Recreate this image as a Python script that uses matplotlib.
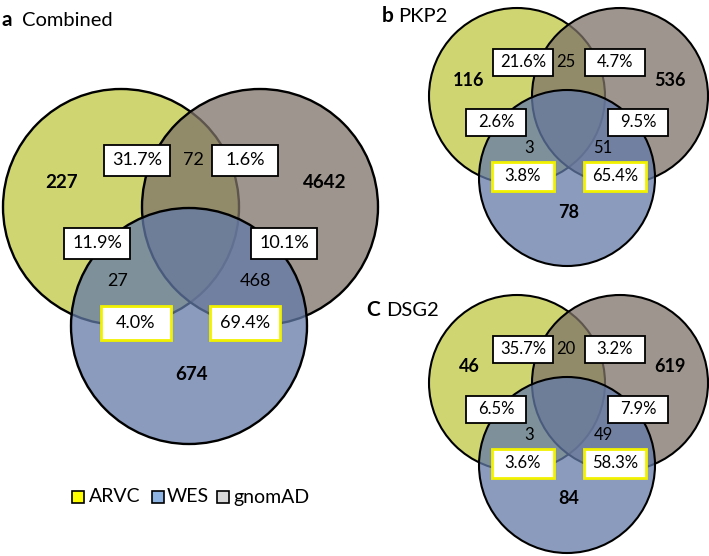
import matplotlib.pyplot as plt
from matplotlib.patches import Circle, Rectangle

plt.rcParams['font.family'] = ['Lato', 'DejaVu Sans']

# data
panel_tags = ['a', 'b', 'C']
panel_names = ['Combined', 'PKP2', 'DSG2']
arvc_only = [227, 116, 46]
gnomad_only = [4642, 536, 619]
wes_only = [674, 78, 84]
arvc_gnomad = [72, 25, 20]
arvc_wes = [27, 3, 3]
gnomad_wes = [468, 51, 49]
pct_arvc_gnomad = [31.7, 21.6, 35.7]
pct_gnomad_arvc = [1.6, 4.7, 3.2]
pct_arvc_wes = [11.9, 2.6, 6.5]
pct_gnomad_wes = [10.1, 9.5, 7.9]
pct_wes_arvc = [4.0, 3.8, 3.6]
pct_wes_gnomad = [69.4, 65.4, 58.3]
legend_names = ['ARVC', 'WES', 'gnomAD']
legend_colors = ['#FFFF00', '#8DB4E2', '#D9D9D9']

fill_arvc = (190/255, 200/255, 66/255, 0.75)
fill_gnomad = (126/255, 114/255, 104/255, 0.75)
fill_wes = (99/255, 122/255, 168/255, 0.75)

# layout (pixel coords), one entry per panel
centers = [
    dict(y=(121, 207), g=(260, 207), w=(189, 326), r=118),
    dict(y=(517, 96), g=(620, 96), w=(567, 178), r=88),
    dict(y=(517, 383), g=(620, 383), w=(567, 465), r=88),
]
layout_a = dict(only_a=(62, 182), only_g=(325, 182), only_w=(192, 375),
                ag=(193, 160), aw=(118, 281), gw=(255, 281),
                p_ag=(137, 160), p_ga=(245, 160), p_aw=(97, 243),
                p_gw=(284, 243), p_wa=(136, 323), p_wg=(245, 323),
                box=(66, 31), box2=(70, 34), fs=13, fsb=13.5, lw=1.7)
layout_b = dict(only_a=(469, 80), only_g=(670, 80), only_w=(569, 212),
                ag=(566, 62), aw=(529, 148), gw=(603, 148),
                p_ag=(523, 62), p_ga=(615, 62), p_aw=(496, 122),
                p_gw=(638, 122), p_wa=(523, 176), p_wg=(615, 176),
                box=(60, 27), box2=(62, 29), fs=12, fsb=13, lw=1.5)
shift_c = 287
layout_c = {k: ((v[0], v[1] + shift_c) if k.startswith(('only', 'ag', 'aw', 'gw', 'p_')) else v)
            for k, v in layout_b.items()}
layouts = [layout_a, layout_b, layout_c]
titles_xy = [(2, 20, 22), (382, 16, 398), (366, 310, 386)]

fig = plt.figure(figsize=(7.09, 5.56), dpi=100)
ax = fig.add_axes([0, 0, 1, 1])
ax.set_xlim(0, 709)
ax.set_ylim(556, 0)
ax.axis('off')


def pct_box(x, y, val, size, fs, edge, lw):
    w, h = size
    ax.add_patch(Rectangle((x - w / 2, y - h / 2), w, h, facecolor='white',
                           edgecolor=edge, linewidth=lw, zorder=5))
    ax.text(x, y, f'{val:.1f}%', ha='center', va='center', fontsize=fs, zorder=6)


for i in range(3):
    c = centers[i]
    L = layouts[i]
    for key, col in [('y', fill_arvc), ('g', fill_gnomad), ('w', fill_wes)]:
        ax.add_patch(Circle(c[key], c['r'], facecolor=col, edgecolor='black',
                            linewidth=L['lw']))

    ax.text(*L['only_a'], str(arvc_only[i]), ha='center', va='center', fontsize=L['fsb'], fontweight='bold')
    ax.text(*L['only_g'], str(gnomad_only[i]), ha='center', va='center', fontsize=L['fsb'], fontweight='bold')
    ax.text(*L['only_w'], str(wes_only[i]), ha='center', va='center', fontsize=L['fsb'], fontweight='bold')
    ax.text(*L['ag'], str(arvc_gnomad[i]), ha='center', va='center', fontsize=L['fs'])
    ax.text(*L['aw'], str(arvc_wes[i]), ha='center', va='center', fontsize=L['fs'])
    ax.text(*L['gw'], str(gnomad_wes[i]), ha='center', va='center', fontsize=L['fs'])

    pct_box(*L['p_ag'], pct_arvc_gnomad[i], L['box'], L['fs'], 'black', 1.3)
    pct_box(*L['p_ga'], pct_gnomad_arvc[i], L['box'], L['fs'], 'black', 1.3)
    pct_box(*L['p_aw'], pct_arvc_wes[i], L['box'], L['fs'], 'black', 1.3)
    pct_box(*L['p_gw'], pct_gnomad_wes[i], L['box'], L['fs'], 'black', 1.3)
    pct_box(*L['p_wa'], pct_wes_arvc[i], L['box2'], L['fs'], '#F2F200', 2.0)
    pct_box(*L['p_wg'], pct_wes_gnomad[i], L['box2'], L['fs'], '#F2F200', 2.0)

    tx, ty, nx = titles_xy[i]
    ax.text(tx, ty, panel_tags[i], ha='left', va='center', fontsize=15, fontweight='bold')
    ax.text(nx, ty, panel_names[i], ha='left', va='center', fontsize=14.5)

# legend
leg_box_x = [72, 152, 217]
leg_text_x = [89, 167, 233]
for bx, lx, name, col in zip(leg_box_x, leg_text_x, legend_names, legend_colors):
    ax.add_patch(Rectangle((bx, 491), 12, 12, facecolor=col, edgecolor='black', linewidth=1.2))
    ax.text(lx, 497, name, ha='left', va='center', fontsize=14)

fig.savefig('out.png', dpi=100)
